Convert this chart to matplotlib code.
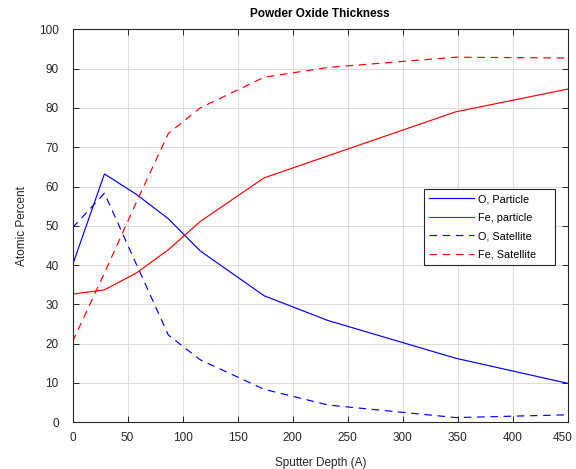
import matplotlib
matplotlib.use("Agg")
import matplotlib.pyplot as plt
import matplotlib.transforms as mtransforms

depth = [0, 29, 58, 87, 116, 174, 232, 348, 450]
o_particle = [40.0, 63.2, 58.0, 51.8, 43.6, 32.2, 25.9, 16.3, 9.9]
fe_particle = [32.6, 33.7, 38.0, 43.9, 51.1, 62.2, 67.8, 79.0, 84.8]
o_satellite = [49.5, 58.3, 40.2, 22.2, 15.9, 8.4, 4.4, 1.2, 1.9]
fe_satellite = [20.5, 38.0, 56.0, 73.5, 80.0, 87.8, 90.3, 92.9, 92.7]
labels = ["O, Particle", "Fe, particle", "O, Satellite", "Fe, Satellite"]
xticks = list(range(0, 451, 50))
yticks = list(range(0, 101, 10))

plt.rcParams['font.family'] = ['Liberation Sans', 'DejaVu Sans']

fig = plt.figure(figsize=(5.76, 4.69), dpi=100)
ax = fig.add_axes([0.1259, 0.0996, 0.8602, 0.8379])

dash = (0, (6.4, 4.8))
lw = 0.85
ax.plot(depth, o_particle, color=(0, 0, 1), lw=lw, label=labels[0])
ax.plot(depth, fe_particle, color=(1, 0, 0), lw=lw, label=labels[1])
ax.plot(depth, o_satellite, color=(0, 0, 1), lw=lw, ls=dash, label=labels[2])
ax.plot(depth, fe_satellite, color=(1, 0, 0), lw=lw, ls=dash, label=labels[3])

ax.set_xlim(0, 450)
ax.set_ylim(0, 100)
ax.set_xticks(xticks)
ax.set_yticks(yticks)
ax.grid(True, color='#dcdcdc', lw=0.7)
ax.set_axisbelow(True)
ax.tick_params(direction='in', top=True, right=True, length=4, width=0.7,
               labelsize=8.5, labelcolor='#262626', color='#262626')
ax.tick_params(axis='y', pad=10)
ax.tick_params(axis='x', pad=7)
for s in ax.spines.values():
    s.set_linewidth(0.8)
    s.set_color('#262626')

# keep the last x tick label inside the figure, as in the reference
last = ax.get_xticklabels()[-1]
last.set_transform(last.get_transform() +
                   mtransforms.ScaledTranslation(-5 / 100, 0, fig.dpi_scale_trans))

ax.set_title("Powder Oxide Thickness", fontsize=8.5, fontweight='bold', pad=9)
ax.set_xlabel("Sputter Depth (A)", fontsize=8.5, color='#262626', labelpad=9)
ax.set_ylabel("Atomic Percent", fontsize=8.5, color='#262626', labelpad=8)

leg = ax.legend(loc='upper left', bbox_to_anchor=(0.7094, 0.0, 0.2644, 0.594),
                mode='expand', fontsize=7.8,
                frameon=True, fancybox=False, edgecolor='#262626', framealpha=1,
                handlelength=4.1, handletextpad=0.4, labelspacing=0.78,
                borderpad=0.5, borderaxespad=0)
leg.get_frame().set_linewidth(0.8)

fig.savefig("out.png", dpi=100)
